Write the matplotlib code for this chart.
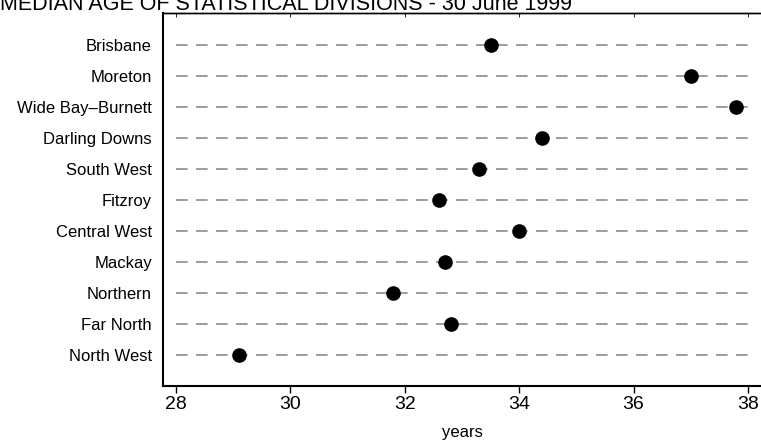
import matplotlib
matplotlib.use("Agg")
import matplotlib.pyplot as plt
import numpy as np

plt.rcParams["font.family"] = ["Liberation Sans", "DejaVu Sans"]

# === Data ===
divisions = ["Brisbane", "Moreton", "Wide Bay\u2013Burnett", "Darling Downs", "South West",
             "Fitzroy", "Central West", "Mackay", "Northern", "Far North", "North West"]
median_age = [33.5, 37.0, 37.8, 34.4, 33.3, 32.6, 34.0, 32.7, 31.8, 32.8, 29.1]
xticks = [28, 30, 32, 34, 36, 38]

fig = plt.figure(figsize=(7.61, 4.41), dpi=100)
ax = fig.add_axes([163/761, 55/441, 598/761, 373/441])

y = np.arange(len(divisions))[::-1]

# dashed guide lines
for yi in y:
    ax.plot([xticks[0], xticks[-1]], [yi, yi], color="#8c8c8c", lw=1.2,
            dashes=(7, 5), zorder=1)

ax.plot(median_age, y, "o", color="black", markersize=9.5, zorder=3)

ax.set_xlim(27.77, 38.23)
ax.set_ylim(-1.0, len(divisions) + 0.03)
ax.set_yticks(y)
ax.set_yticklabels(divisions, fontsize=12)
ax.set_xticks(xticks)
ax.set_xticklabels([str(t) for t in xticks], fontsize=14)
ax.tick_params(axis="y", length=0, pad=8)
ax.tick_params(axis="x", length=5, width=1, pad=2)
ax.set_xlabel("years", fontsize=12, labelpad=9)

secax = ax.secondary_xaxis("top")
secax.set_xticks(xticks)
secax.set_xticklabels([])
secax.tick_params(direction="in", length=3, width=0.6)
secax.spines["top"].set_linewidth(1.0)

ax.spines["left"].set_linewidth(1.5)
ax.spines["bottom"].set_linewidth(1.5)
ax.spines["top"].set_linewidth(1.0)
ax.spines["right"].set_visible(False)

fig.text(0.0, 441 - 10, "MEDIAN AGE OF STATISTICAL DIVISIONS - 30 June 1999",
         transform=None, fontsize=15.5, ha="left", va="baseline")

plt.savefig("out.png", dpi=100, facecolor="white")
plt.close()
